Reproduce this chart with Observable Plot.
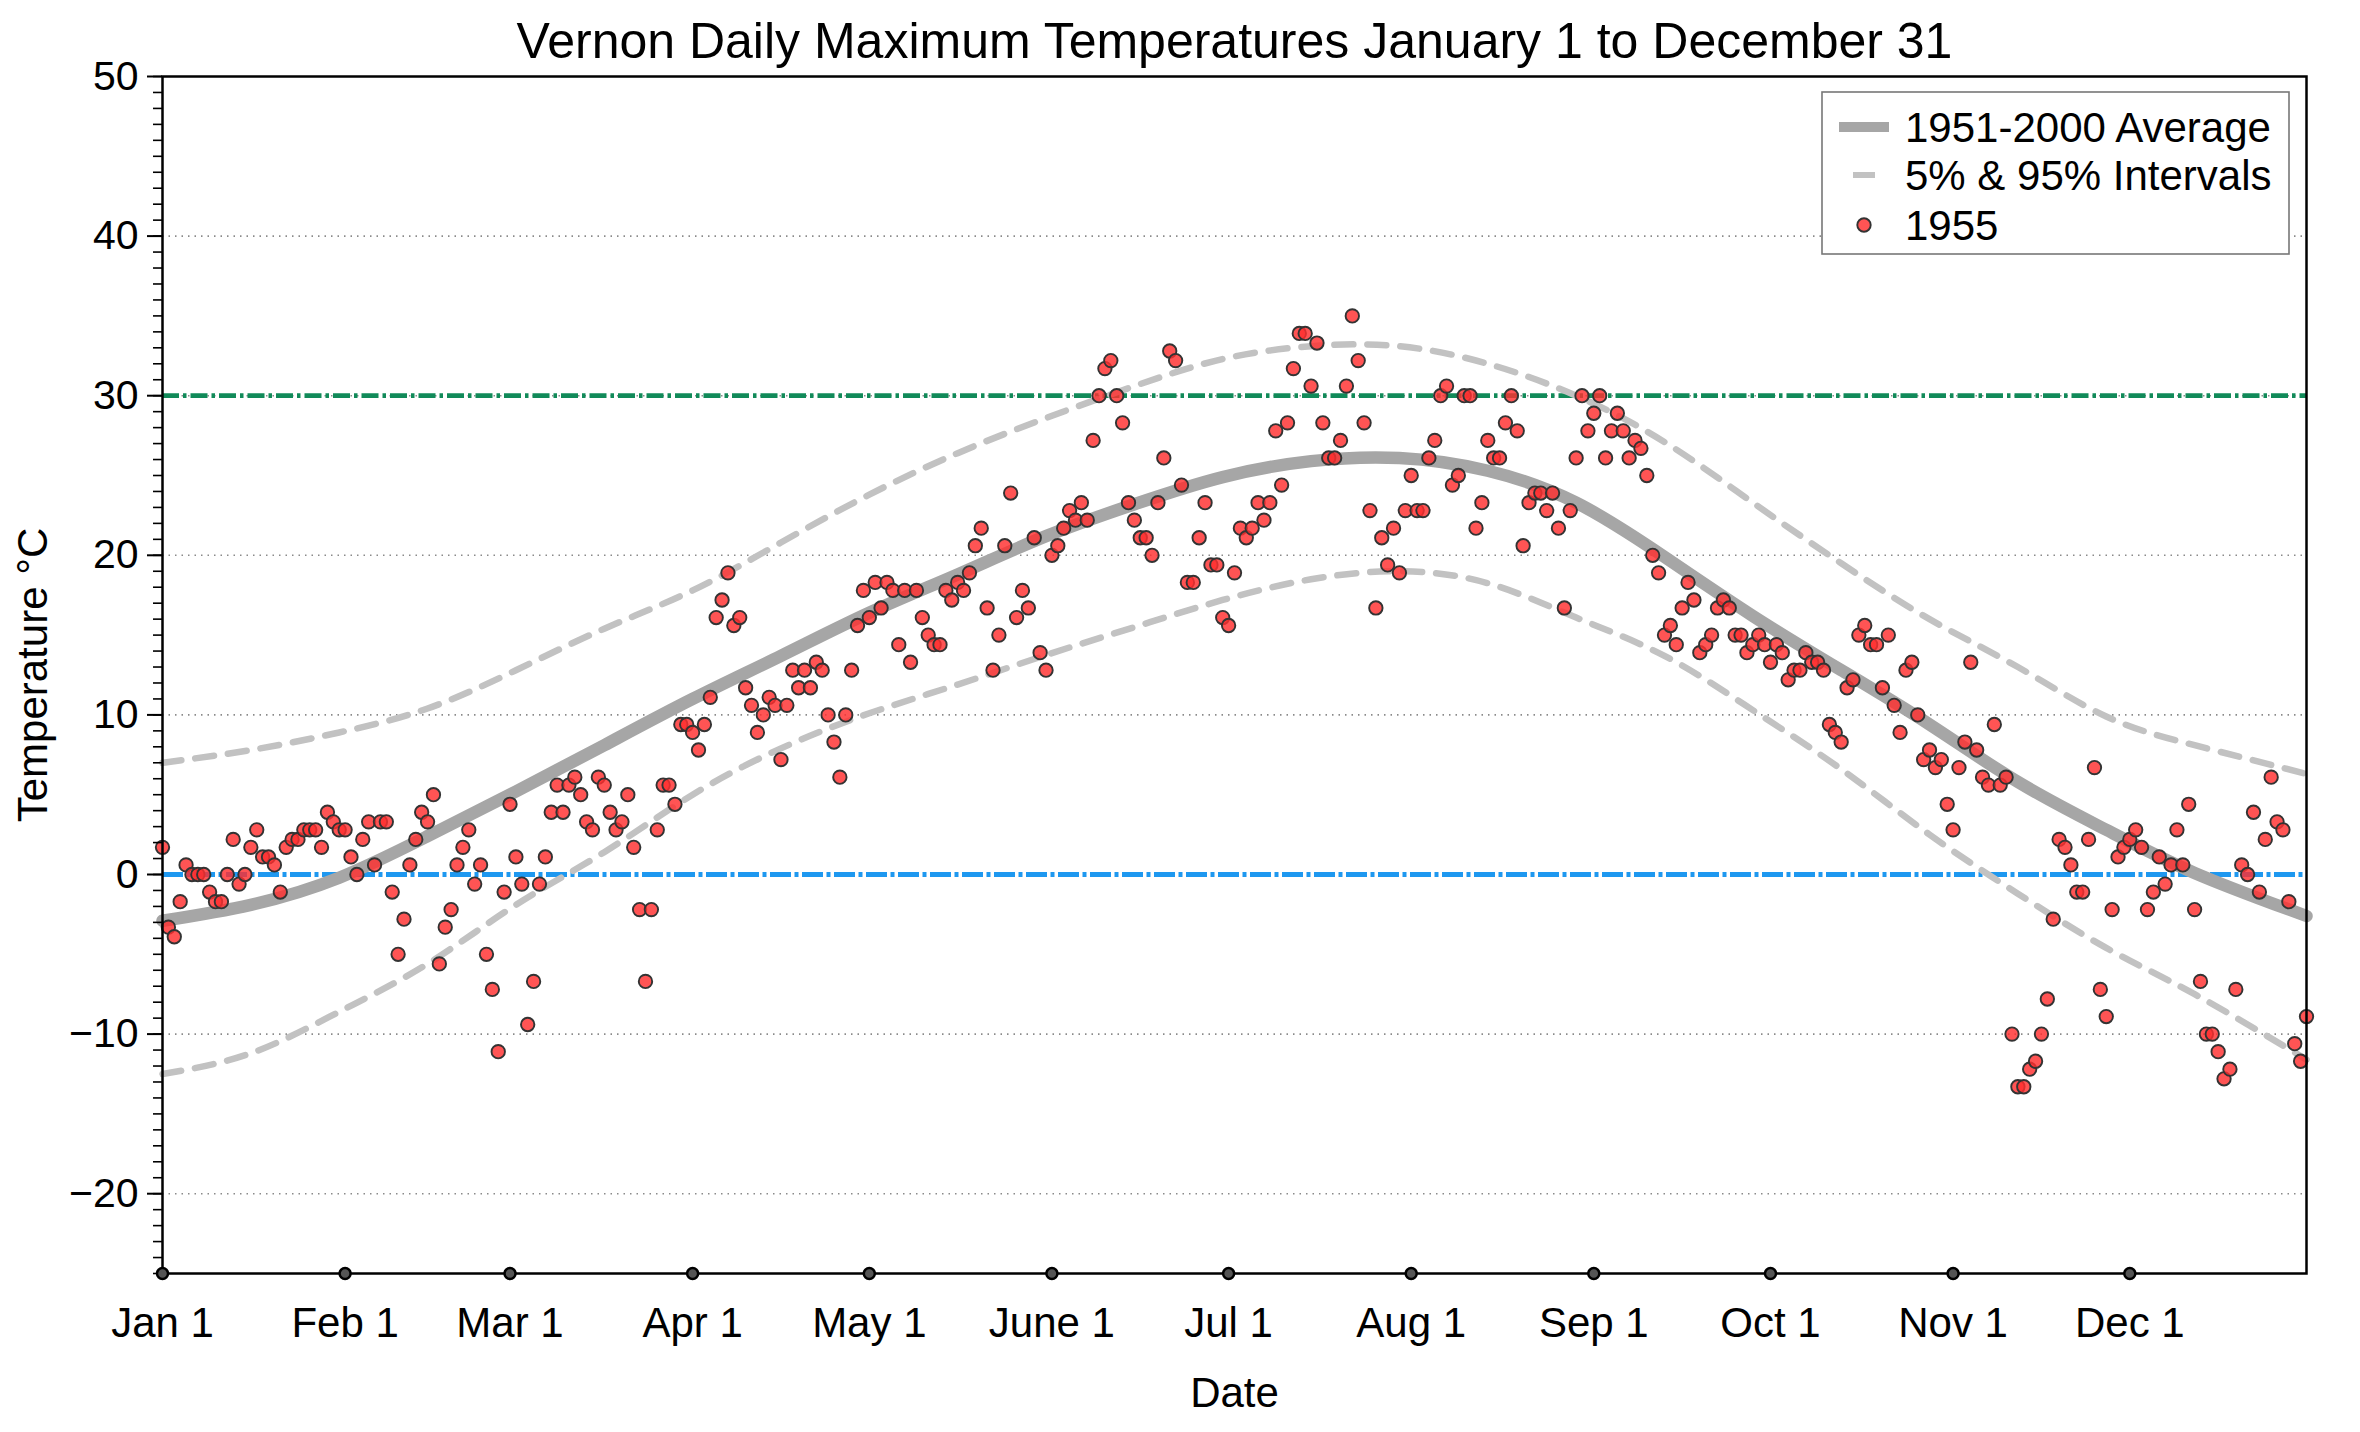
<!DOCTYPE html>
<html>
<head>
<meta charset="utf-8">
<script src="https://cdn.jsdelivr.net/npm/d3@7"></script>
<script src="https://cdn.jsdelivr.net/npm/@observablehq/plot@0.6"></script>
<style>
html, body { margin: 0; padding: 0; background: #fff; }
#chart { width: 2360px; height: 1432px; }
</style>
</head>
<body>
<div id="chart"></div>
<script>
// ---- Data ----
const monthDays = [0, 31, 59, 90, 120, 151, 181, 212, 243, 273, 304, 334];
const monthLabels = ["Jan 1", "Feb 1", "Mar 1", "Apr 1", "May 1", "June 1", "Jul 1", "Aug 1", "Sep 1", "Oct 1", "Nov 1", "Dec 1"];
const yTickValues = [-20, -10, 0, 10, 20, 30, 40, 50];
const gridValues = [-20, -10, 10, 20, 30, 40];

// Daily maximum temperatures, 1955 (day 0 = Jan 1)
const temps1955 = [
  // Jan
  1.7,-3.3,-3.9,-1.7,0.6,0,0,0,-1.1,-1.7,
  -1.7,0,2.2,-0.6,0,1.7,2.8,1.1,1.1,0.6,
  -1.1,1.7,2.2,2.2,2.8,2.8,2.8,1.7,3.9,3.3,
  2.8,
  // Feb
  2.8,1.1,0,2.2,3.3,0.6,3.3,3.3,-1.1,-5.0,
  -2.8,0.6,2.2,3.9,3.3,5.0,-5.6,-3.3,-2.2,0.6,
  1.7,2.8,-0.6,0.6,-5.0,-7.2,-11.1,-1.1,
  // Mar
  4.4,1.1,-0.6,-9.4,-6.7,-0.6,1.1,3.9,5.6,3.9,
  5.6,6.1,5.0,3.3,2.8,6.1,5.6,3.9,2.8,3.3,
  5.0,1.7,-2.2,-6.7,-2.2,2.8,5.6,5.6,4.4,9.4,
  9.4,
  // Apr
  8.9,7.8,9.4,11.1,16.1,17.2,18.9,15.6,16.1,11.7,
  10.6,8.9,10.0,11.1,10.6,7.2,10.6,12.8,11.7,12.8,
  11.7,13.3,12.8,10.0,8.3,6.1,10.0,12.8,15.6,17.8,
  // May
  16.1,18.3,16.7,18.3,17.8,14.4,17.8,13.3,17.8,16.1,
  15.0,14.4,14.4,17.8,17.2,18.3,17.8,18.9,20.6,21.7,
  16.7,12.8,15.0,20.6,23.9,16.1,17.8,16.7,21.1,13.9,
  12.8,
  // Jun
  20.0,20.6,21.7,22.8,22.2,23.3,22.2,27.2,30.0,31.7,
  32.2,30.0,28.3,23.3,22.2,21.1,21.1,20.0,23.3,26.1,
  32.8,32.2,24.4,18.3,18.3,21.1,23.3,19.4,19.4,16.1,
  // Jul
  15.6,18.9,21.7,21.1,21.7,23.3,22.2,23.3,27.8,24.4,
  28.3,31.7,33.9,33.9,30.6,33.3,28.3,26.1,26.1,27.2,
  30.6,35.0,32.2,28.3,22.8,16.7,21.1,19.4,21.7,18.9,
  22.8,
  // Aug
  25.0,22.8,22.8,26.1,27.2,30.0,30.6,24.4,25.0,30.0,
  30.0,21.7,23.3,27.2,26.1,26.1,28.3,30.0,27.8,20.6,
  23.3,23.9,23.9,22.8,23.9,21.7,16.7,22.8,26.1,30.0,
  27.8,
  // Sep
  28.9,30.0,26.1,27.8,28.9,27.8,26.1,27.2,26.7,25.0,
  20.0,18.9,15.0,15.6,14.4,16.7,18.3,17.2,13.9,14.4,
  15.0,16.7,17.2,16.7,15.0,15.0,13.9,14.4,15.0,14.4,
  // Oct
  13.3,14.4,13.9,12.2,12.8,12.8,13.9,13.3,13.3,12.8,
  9.4,8.9,8.3,11.7,12.2,15.0,15.6,14.4,14.4,11.7,
  15.0,10.6,8.9,12.8,13.3,10.0,7.2,7.8,6.7,7.2,
  4.4,
  // Nov
  2.8,6.7,8.3,13.3,7.8,6.1,5.6,9.4,5.6,6.1,
  -10.0,-13.3,-13.3,-12.2,-11.7,-10.0,-7.8,-2.8,2.2,1.7,
  0.6,-1.1,-1.1,2.2,6.7,-7.2,-8.9,-2.2,1.1,1.7,
  // Dec
  2.2,2.8,1.7,-2.2,-1.1,1.1,-0.6,0.6,2.8,0.6,
  4.4,-2.2,-6.7,-10.0,-10.0,-11.1,-12.8,-12.2,-7.2,0.6,
  0.0,3.9,-1.1,2.2,6.1,3.3,2.8,-1.7,-10.6,-11.7,
  -8.9
];

// Climatology curves (1951-2000), read at these days of year
const curveDays = [0, 15, 30, 45, 60, 75, 90, 105, 120, 135, 150, 165, 180, 195, 210, 225, 240, 255, 270, 285, 300, 315, 330, 345, 364];
const avgTemps  = [-2.9, -1.9, -0.2, 2.4, 5.2, 8.1, 11.0, 13.7, 16.4, 18.8, 21.2, 23.2, 24.9, 25.9, 26.1, 25.3, 23.3, 19.9, 16.2, 12.8, 9.4, 5.8, 2.8, 0.1, -2.6];
const upper95   = [7.0, 7.8, 8.9, 10.4, 12.8, 15.4, 17.8, 20.8, 23.8, 26.4, 28.6, 30.6, 32.3, 33.1, 33.1, 32.0, 30.0, 27.1, 23.3, 19.5, 16.0, 13.0, 9.9, 8.1, 6.3];
const lower5    = [-12.5, -11.2, -8.6, -5.6, -1.9, 1.4, 5.0, 7.9, 10.1, 11.9, 13.75, 15.5, 17.2, 18.5, 19.0, 18.25, 16.1, 13.7, 10.3, 6.6, 2.5, -1.2, -4.6, -7.5, -11.6];

const hotLine = [30];
const freezeLine = [0];

// ---- Build ----
const FONT = "'Liberation Sans', Arial, Helvetica, sans-serif";
const obs = temps1955.map((t, i) => ({day: i, temp: t}));
const avg = curveDays.map((d, i) => ({day: d, temp: avgTemps[i]}));
const hi = curveDays.map((d, i) => ({day: d, temp: upper95[i]}));
const lo = curveDays.map((d, i) => ({day: d, temp: lower5[i]}));

const COL_AVG = "#a6a6a6";
const COL_INT = "#c2c2c2";
const COL_DOT = "#ff2e2e";

const fmt = d => d < 0 ? "\u2212" + Math.abs(d) : String(d);

const svg = Plot.plot({
  width: 2360,
  height: 1432,
  marginLeft: 162,
  marginRight: 54,
  marginTop: 76,
  marginBottom: 159,
  style: {fontFamily: FONT, fontSize: "41px", color: "#000", background: "#fff", overflow: "visible"},
  x: {domain: [0, 364], axis: null},
  y: {domain: [-25, 50], axis: null},
  marks: [
    Plot.ruleY(gridValues, {stroke: "#8a8a8a", strokeWidth: 1.6, strokeDasharray: "1.5,5"}),
    Plot.ruleY(hotLine, {stroke: "#118a59", strokeWidth: 4.8, strokeDasharray: "17,4,3.5,4"}),
    Plot.ruleY(freezeLine, {stroke: "#1e98f0", strokeWidth: 4.8, strokeDasharray: "21,3.5,4,3.5"}),
    Plot.line(lo, {x: "day", y: "temp", stroke: COL_INT, strokeWidth: 6.5, strokeDasharray: "19,14", curve: "natural"}),
    Plot.line(hi, {x: "day", y: "temp", stroke: COL_INT, strokeWidth: 6.5, strokeDasharray: "19,14", curve: "natural"}),
    Plot.line(avg, {x: "day", y: "temp", stroke: COL_AVG, strokeWidth: 12.5, curve: "natural"}),
    Plot.dot(obs, {x: "day", y: "temp", r: 6.7, fill: COL_DOT, fillOpacity: 0.82, stroke: "#333", strokeWidth: 1.9}),
    Plot.frame({stroke: "#000", strokeWidth: 2.5}),
    Plot.axisY({ticks: d3.range(-25, 51, 1), tickSize: 9, tickFormat: () => "", label: null, strokeWidth: 1.6}),
    Plot.axisY({ticks: yTickValues, tickSize: 15, tickPadding: 9, tickFormat: fmt, label: null, strokeWidth: 2, fontSize: 41}),
    Plot.axisX({ticks: monthDays, tickSize: 0, tickPadding: 34, tickFormat: d => monthLabels[monthDays.indexOf(d)], label: null, fontSize: 42}),
    Plot.dot(monthDays, {x: d => d, y: () => -25, r: 5.5, fill: "#555", stroke: "#000", strokeWidth: 2.5}),
    Plot.text(["Vernon Daily Maximum Temperatures January 1 to December 31"], {frameAnchor: "top", dy: -35, lineAnchor: "middle", textAnchor: "middle", fontSize: 50}),
    Plot.text(["Temperature \u00B0C"], {frameAnchor: "left", dx: -129, rotate: -90, lineAnchor: "middle", textAnchor: "middle", fontSize: 42}),
    Plot.text(["Date"], {frameAnchor: "bottom", dy: 120, lineAnchor: "middle", textAnchor: "middle", fontSize: 42})
  ]
});

// ---- Legend ----
const g = d3.select(svg).append("g")
  .attr("font-family", FONT).attr("font-size", 42).attr("text-anchor", "start");
g.append("rect").attr("x", 1822).attr("y", 92).attr("width", 467).attr("height", 162)
  .attr("fill", "#fff").attr("stroke", "#777").attr("stroke-width", 1.6);
const rows = [
  {label: "1951-2000 Average", y: 127, kind: "avg"},
  {label: "5% & 95% Intervals", y: 175, kind: "int"},
  {label: "1955", y: 225, kind: "dot"}
];
rows.forEach(r => {
  if (r.kind === "avg") {
    g.append("line").attr("x1", 1839).attr("x2", 1889).attr("y1", r.y).attr("y2", r.y)
      .attr("stroke", COL_AVG).attr("stroke-width", 10);
  } else if (r.kind === "int") {
    g.append("line").attr("x1", 1853).attr("x2", 1875).attr("y1", r.y).attr("y2", r.y)
      .attr("stroke", COL_INT).attr("stroke-width", 6);
  } else {
    g.append("circle").attr("cx", 1864).attr("cy", r.y).attr("r", 6.7)
      .attr("fill", COL_DOT).attr("fill-opacity", 0.82).attr("stroke", "#333").attr("stroke-width", 1.9);
  }
  g.append("text").attr("x", 1905).attr("y", r.y).attr("dy", "0.36em")
    .attr("text-anchor", "start").attr("fill", "#000").text(r.label);
});

document.getElementById("chart").appendChild(svg);
</script>
</body>
</html>
